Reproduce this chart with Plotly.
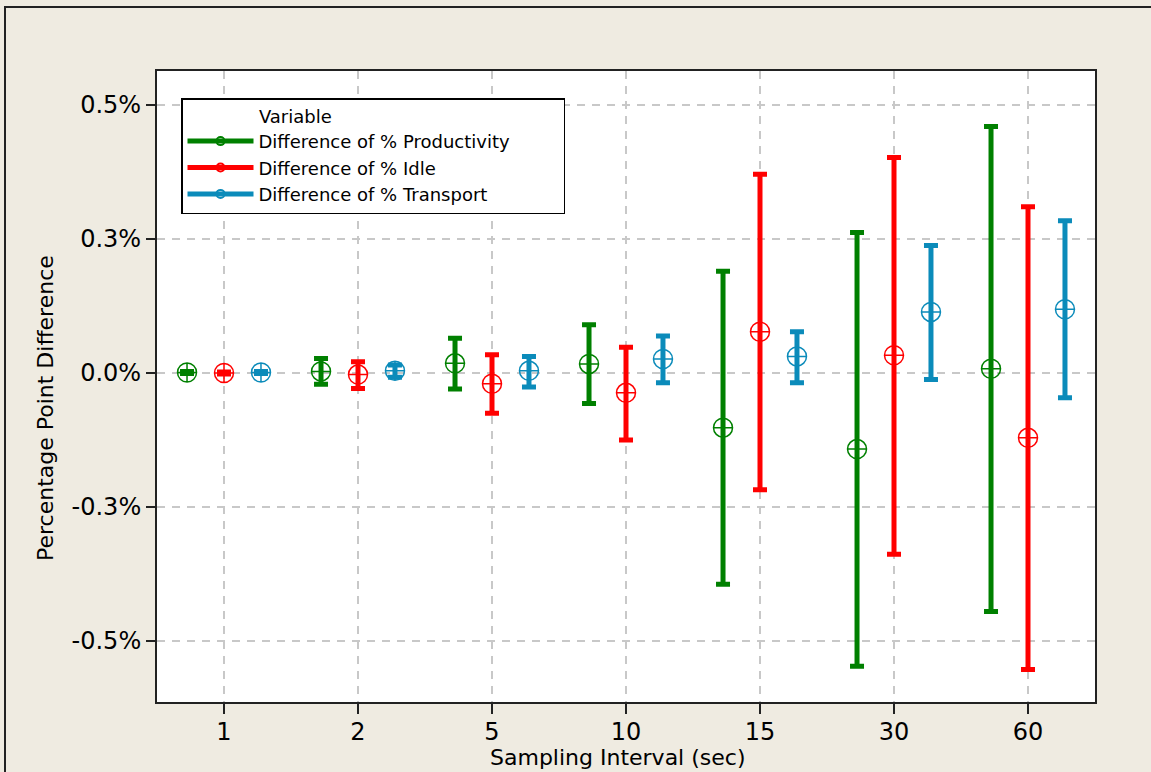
import plotly.graph_objects as go

# Sampling intervals (seconds) shown as categories on the x axis
intervals = ["1", "2", "5", "10", "15", "30", "60"]

# Mean difference (percentage points) and 95% CI bounds per variable
prod_mean = [0.001, 0.003, 0.018, 0.017, -0.102, -0.142, 0.008]
prod_lo = [-0.001, -0.021, -0.030, -0.057, -0.394, -0.547, -0.445]
prod_hi = [0.003, 0.027, 0.065, 0.090, 0.190, 0.262, 0.460]

idle_mean = [0.000, -0.003, -0.020, -0.037, 0.077, 0.033, -0.121]
idle_lo = [-0.002, -0.029, -0.075, -0.125, -0.218, -0.338, -0.553]
idle_hi = [0.002, 0.021, 0.034, 0.048, 0.371, 0.402, 0.310]

trans_mean = [0.001, 0.004, 0.004, 0.026, 0.031, 0.114, 0.119]
trans_lo = [-0.001, -0.008, -0.026, -0.018, -0.018, -0.012, -0.046]
trans_hi = [0.003, 0.015, 0.031, 0.069, 0.077, 0.238, 0.284]

y_tick_vals = [-0.5, -0.25, 0.0, 0.25, 0.5]
y_tick_text = ["-0.5%", "-0.3%", "0.0%", "0.3%", "0.5%"]

series = [
    ("Difference of % Productivity", "#008000", prod_mean, prod_lo, prod_hi),
    ("Difference of % Idle", "#FF0000", idle_mean, idle_lo, idle_hi),
    ("Difference of % Transport", "#0B8BBA", trans_mean, trans_lo, trans_hi),
]

FONT = "DejaVu Sans"
BG = "#EFEBE1"
NBSP = "\u00a0"
offsets = [-0.276, 0.0, 0.276]

fig = go.Figure()
for k, (name, color, mean, lo, hi) in enumerate(series):
    xs = [i + offsets[k] for i in range(len(intervals))]
    fig.add_trace(go.Scatter(
        x=xs, y=mean, mode="markers", name=name, legendgroup=name,
        showlegend=False,
        marker=dict(symbol="circle-cross-open", size=19, color=color,
                    line=dict(width=1.5, color=color)),
        error_y=dict(type="data", symmetric=False,
                     array=[h - m for h, m in zip(hi, mean)],
                     arrayminus=[m - l for m, l in zip(mean, lo)],
                     color=color, thickness=5, width=7),
    ))
    # legend entry: thick line with a small connect symbol
    fig.add_trace(go.Scatter(
        x=[None], y=[None], mode="lines+markers", name=name, legendgroup=name,
        line=dict(color=color, width=5),
        marker=dict(symbol="circle-open", size=8, color=color,
                    line=dict(width=2, color=color)),
    ))

# outer frame around the whole graph region
fig.add_shape(type="rect", xref="paper", yref="paper",
              x0=(5 - 157) / 938, x1=1.08, y0=-0.15, y1=1 + (71 - 7) / 631,
              line=dict(color="#222222", width=2), fillcolor="rgba(0,0,0,0)",
              layer="below")

# axis titles
fig.add_annotation(text="Sampling Interval (sec)", xref="paper", yref="paper",
                   x=(617 - 157) / 938, y=-(757 - 702) / 631,
                   xanchor="center", yanchor="middle", showarrow=False,
                   font=dict(family=FONT, size=22, color="black"))
fig.add_annotation(text="Percentage Point Difference", xref="paper", yref="paper",
                   x=(45 - 157) / 938, y=1 - (408 - 71) / 631, textangle=-90,
                   xanchor="center", yanchor="middle", showarrow=False,
                   font=dict(family=FONT, size=22, color="black"))

fig.update_layout(
    width=1151, height=772,
    margin=dict(l=157, r=56, t=71, b=70),
    paper_bgcolor=BG, plot_bgcolor="white",
    font=dict(family=FONT, color="black"),
    showlegend=True,
    legend=dict(
        x=(181 - 157) / 938, y=1 - (98 - 71) / 631,
        xanchor="left", yanchor="top",
        bgcolor="white", bordercolor="black", borderwidth=1.5,
        font=dict(family=FONT, size=18, color="black"),
        title=dict(text=NBSP * 13 + "Variable" + NBSP * 40, side="top",
                   font=dict(family=FONT, size=18, color="black")),
        itemwidth=66, tracegroupgap=0,
    ),
    xaxis=dict(
        range=[-0.5, 6.5], tickmode="array",
        tickvals=list(range(len(intervals))), ticktext=intervals,
        showgrid=True, gridcolor="#C8C8C8", gridwidth=1.5, griddash="8px,7px",
        zeroline=False, showline=True, mirror=True,
        linecolor="#222222", linewidth=2,
        ticks="outside", ticklen=10, tickwidth=2, tickcolor="#222222",
        ticklabelstandoff=-3,
        tickfont=dict(family=FONT, size=24),
    ),
    yaxis=dict(
        range=[-(702 - 373) / 134 * 0.25, (373 - 71) / 134 * 0.25],
        tickmode="array", tickvals=y_tick_vals, ticktext=y_tick_text,
        showgrid=True, gridcolor="#C8C8C8", gridwidth=1.5, griddash="8px,7px",
        zeroline=False, showline=True, mirror=True,
        linecolor="#222222", linewidth=2,
        ticks="outside", ticklen=9, tickwidth=2, tickcolor="#222222",
        tickfont=dict(family=FONT, size=24),
    ),
)

fig.write_html("out.html")
